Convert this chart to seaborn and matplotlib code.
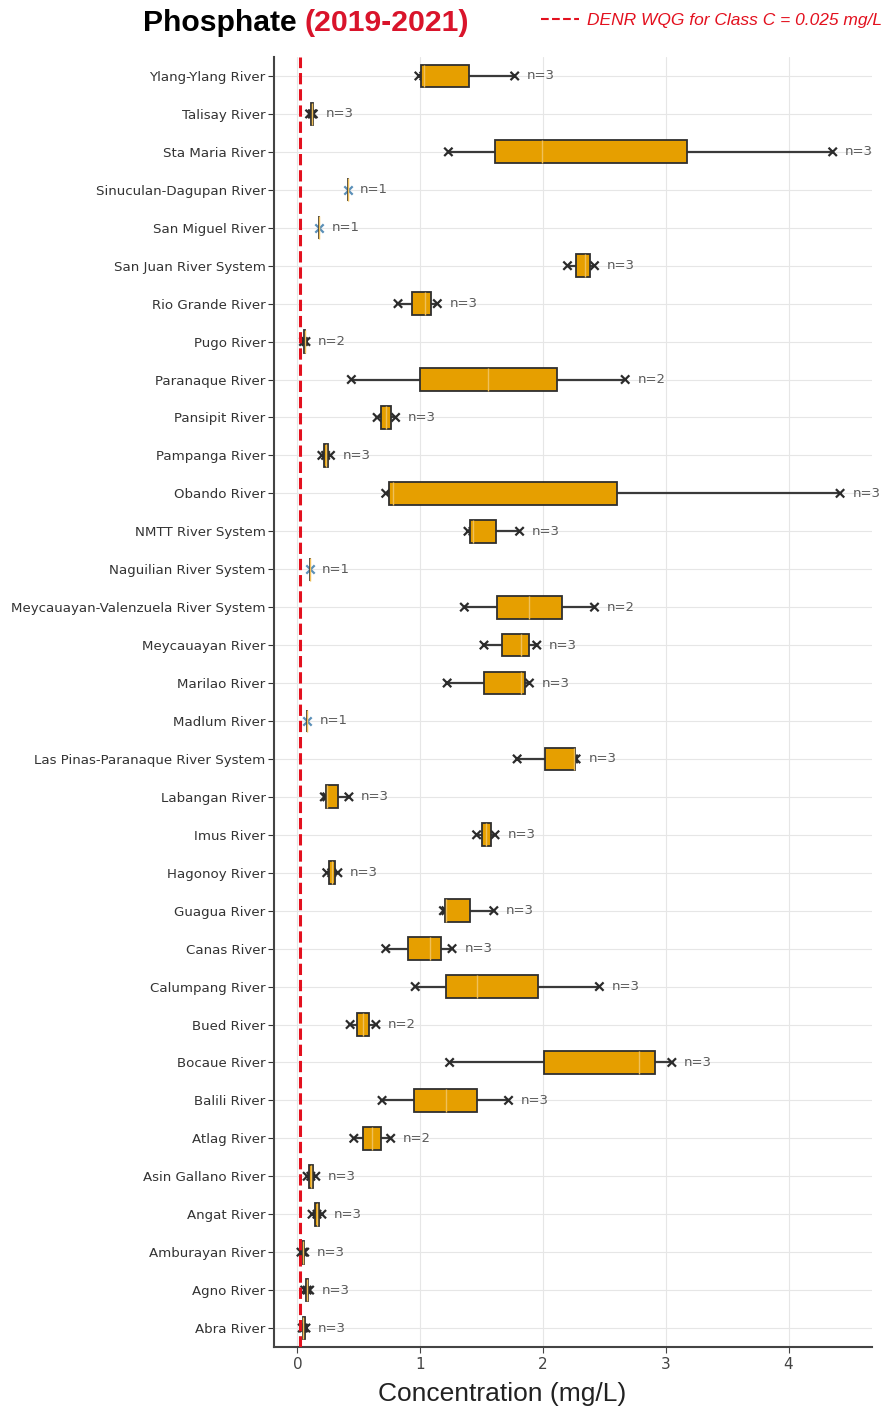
import numpy as np
import pandas as pd
import matplotlib
matplotlib.use("Agg")
import matplotlib.pyplot as plt
from matplotlib.lines import Line2D
import seaborn as sns

# ---------------- data (top to bottom) ----------------
rivers = [
    "Ylang-Ylang River", "Talisay River", "Sta Maria River", "Sinuculan-Dagupan River",
    "San Miguel River", "San Juan River System", "Rio Grande River", "Pugo River",
    "Paranaque River", "Pansipit River", "Pampanga River", "Obando River",
    "NMTT River System", "Naguilian River System", "Meycauayan-Valenzuela River System",
    "Meycauayan River", "Marilao River", "Madlum River", "Las Pinas-Paranaque River System",
    "Labangan River", "Imus River", "Hagonoy River", "Guagua River", "Canas River",
    "Calumpang River", "Bued River", "Bocaue River", "Balili River", "Atlag River",
    "Asin Gallano River", "Angat River", "Amburayan River", "Agno River", "Abra River",
]
nan = np.nan
sample1 = [0.99, 0.10, 1.23, 0.41, 0.18, 2.20, 0.82, 0.05, 0.44, 0.65, 0.20, 0.72,
           1.39, 0.10, 1.36, 1.52, 1.22, 0.08, 1.79, 0.22, 1.46, 0.24, 1.19, 0.72,
           0.96, 0.43, 1.24, 0.69, 0.46, 0.08, 0.12, 0.03, 0.06, 0.04]
sample2 = [1.03, 0.12, 1.99, nan, nan, 2.34, 1.04, 0.07, 2.67, 0.72, 0.23, 0.78,
           1.43, nan, 2.42, 1.82, 1.82, nan, 2.25, 0.24, 1.54, 0.28, 1.21, 1.08,
           1.46, 0.64, 2.78, 1.21, 0.76, 0.11, 0.16, 0.05, 0.08, 0.05]
sample3 = [1.77, 0.13, 4.36, nan, nan, 2.42, 1.14, nan, nan, 0.80, 0.27, 4.42,
           1.81, nan, nan, 1.95, 1.89, nan, 2.27, 0.42, 1.61, 0.33, 1.60, 1.26,
           2.46, nan, 3.05, 1.72, nan, 0.15, 0.20, 0.06, 0.10, 0.07]
wqg_limit = 0.025
xticks = [0, 1, 2, 3, 4]

# ---------------- long table ----------------
rows = []
for r, a, b, c in zip(rivers, sample1, sample2, sample3):
    for v in (a, b, c):
        if not np.isnan(v):
            rows.append((r, v))
df = pd.DataFrame(rows, columns=["river", "conc"])
counts = df.groupby("river")["conc"].count()
df["single"] = df["river"].map(counts) == 1

# ---------------- plot ----------------
sns.set_theme(style="whitegrid")
plt.rcParams["font.family"] = ["DejaVu Sans"]

fig = plt.figure(figsize=(8.86, 14.07), dpi=100)
ax = fig.add_axes([274 / 886, 1 - 1347 / 1407, (872 - 274) / 886, (1347 - 57) / 1407])

sns.stripplot(data=df, x="conc", y="river", order=rivers, hue="single",
              palette={False: "#2b2b2b", True: "#5a8fb8"}, jitter=False,
              marker="x", size=6, linewidth=1.6, legend=False, zorder=2, ax=ax)

sns.boxplot(data=df, x="conc", y="river", order=rivers, width=0.6, whis=[0, 100],
            color="#E69F00", saturation=1, showcaps=False, fliersize=0,
            boxprops=dict(facecolor="#E69F00", edgecolor="#2f2f2f", linewidth=1.3, zorder=3),
            whiskerprops=dict(color="#3a3a3a", linewidth=1.6, zorder=1.5),
            medianprops=dict(color="#f0c05a", linewidth=1.0, zorder=4),
            ax=ax)

ax.axvline(wqg_limit, color="#e3101e", linestyle="--", linewidth=2.2, zorder=5)

# n labels
for i, r in enumerate(rivers):
    vals = df.loc[df["river"] == r, "conc"]
    ax.text(vals.max() + 0.1, i, f"n={len(vals)}", va="center", ha="left",
            fontsize=9.5, color="#5a5a5a", zorder=6)

ax.set_xlim(-0.19, 4.68)
ax.set_ylim(len(rivers) - 0.5, -0.5)
ax.set_xticks(xticks)
ax.set_ylabel("")
ax.set_xlabel("Concentration (mg/L)", fontsize=19, family="Liberation Sans", color="#222222")
ax.xaxis.set_label_coords(0.382, -0.027)
ax.tick_params(axis="y", labelsize=9.65, colors="#333333", length=4, width=0.8, left=True, pad=2)
ax.tick_params(axis="x", labelsize=11, colors="#444444", length=4, width=0.8, bottom=True, pad=3)
ax.grid(True, color="#e6e6e6", linewidth=0.8)
ax.set_axisbelow(True)
for s in ["top", "right"]:
    ax.spines[s].set_visible(False)
for s in ["left", "bottom"]:
    ax.spines[s].set_visible(True)
    ax.spines[s].set_color("#444444")
    ax.spines[s].set_linewidth(1.5)
ax.set_facecolor("white")

# title in two colours
renderer = fig.canvas.get_renderer()
t1 = fig.text(143 / 886, 1 - 23 / 1407, "Phosphate", fontsize=21.7, fontweight="bold",
              family="Liberation Sans", color="black", va="center", ha="left")
bb = t1.get_window_extent(renderer=renderer)
fig.text((bb.x1 + 8) / fig.bbox.width, 1 - 23 / 1407, "(2019-2021)", fontsize=21.7,
         fontweight="bold", family="Liberation Sans", color="#d9142b", va="center", ha="left")

# legend for the limit line
handle = Line2D([], [], color="#e3101e", linestyle="--", linewidth=1.5)
leg = fig.legend([handle], [f"DENR WQG for Class C = {wqg_limit} mg/L"],
                 loc="center right", bbox_to_anchor=(882 / 886, 1 - 20 / 1407),
                 frameon=False, handlelength=2.2, handletextpad=0.45, borderpad=0,
                 borderaxespad=0,
                 prop=dict(family="Liberation Sans", style="italic", size=12.5),
                 labelcolor="#e3101e")

fig.savefig("out.png", dpi=100, facecolor="white")
